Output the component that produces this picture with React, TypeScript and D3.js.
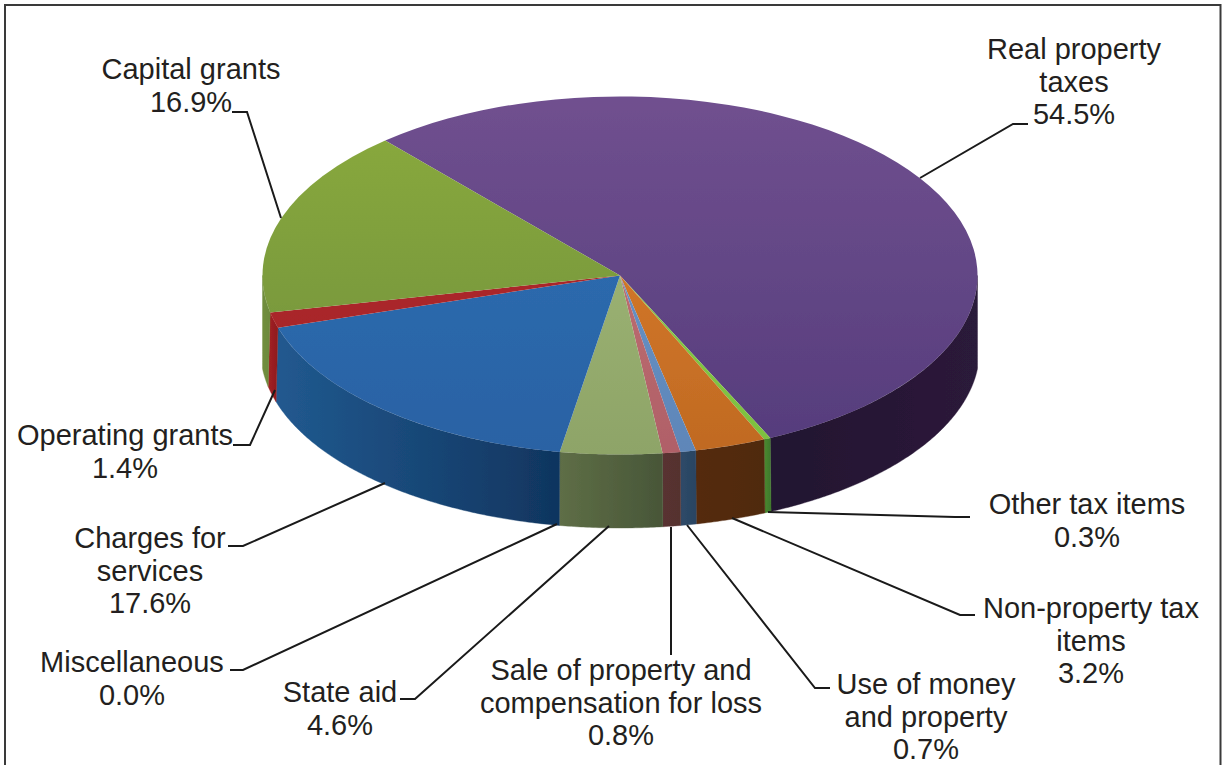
import React from "react";
import * as d3 from "d3";

const categories = [
  "Real property taxes", "Other tax items", "Non-property tax items", "Use of money and property",
  "Sale of property and compensation for loss", "State aid", "Miscellaneous",
  "Charges for services", "Operating grants", "Capital grants",
];
const values = [54.5, 0.3, 3.2, 0.7, 0.8, 4.6, 0.0, 17.6, 1.4, 16.9];
const topColorsA = ["#70508f", "#8fd04a", "#e08030", "#6f9ad0", "#c87878", "#a5bd7a", "#4f81bd", "#2f70b5", "#b02a2c", "#8bab3e"];
const topColorsB = ["#553c7c", "#7cc040", "#c06a22", "#5e86b8", "#b06068", "#8ea468", "#4f81bd", "#2a62a4", "#a52527", "#6f8f3c"];
// wall gradients run left to right on screen
const wallColorsA = ["#221430", "#4a8a30", "#54290c", "#2e4a68", "#5a3030", "#5e6e46", "#1f4f80", "#21598f", "#a02022", "#708e3e"];
const wallColorsB = ["#2c1a3a", "#3f7a2c", "#50290e", "#2a4462", "#54302f", "#485638", "#1f4f80", "#10355f", "#8e1c1e", "#6c8a3c"];

const labelLines = [
  ["Real property", "taxes", "54.5%"], ["Other tax items", "0.3%"], ["Non-property tax", "items", "3.2%"],
  ["Use of money", "and property", "0.7%"], ["Sale of property and", "compensation for loss", "0.8%"],
  ["State aid", "4.6%"], ["Miscellaneous", "0.0%"], ["Charges for", "services", "17.6%"],
  ["Operating grants", "1.4%"], ["Capital grants", "16.9%"],
];
const labelX = [1074, 1087, 1091, 926, 621, 340, 132, 150, 125, 191];
const labelY = [59, 514, 618, 694, 680, 702, 672, 548, 445, 79];
const leaders = [
  [[1028, 124], [1013, 124], [920, 178]],
  [[970, 517], [955, 517], [768, 512]],
  [[975, 615], [960, 615], [732, 518]],
  [[830, 688], [815, 688], [687, 525]],
  [[671, 655], [671, 527]],
  [[400, 699], [415, 699], [609, 526]],
  [[230, 670], [243, 670], [557, 524]],
  [[228, 546], [243, 546], [385, 483]],
  [[233, 445], [250, 445], [275, 390]],
  [[232, 112], [247, 112], [281, 218]],
];

const W = 1222, H = 765;
const cx = 620, cy = 275.5, rx = 357.5, ry = 179;
const botCy = 350, botRx = 359.5, botRy = 178;
const xMin = cx - rx, xMax = cx + rx;
const rad = (d: number) => (d * Math.PI) / 180;
const startDeg = -41.05;

const pie = d3.pie<number>().sort(null).startAngle(rad(startDeg)).endAngle(rad(startDeg + 360));
const arcs = pie(values);
const arcGen = d3.arc<any>().innerRadius(0).outerRadius(rx);

const clampX = d3.scaleLinear().domain([xMin, xMax]).range([xMin, xMax]).clamp(true);
const wallPath = (a0: number, a1: number) => {
  const n = Math.max(2, Math.ceil((a1 - a0) / rad(0.5)));
  const as = d3.range(n + 1).map((i) => a0 + ((a1 - a0) * i) / n);
  const top = as.map((a) => [cx + rx * Math.sin(a), cy - ry * Math.cos(a)] as [number, number]);
  const bot = as.slice().reverse().map((a) => [clampX(cx + botRx * Math.sin(a)), botCy - botRy * Math.cos(a)] as [number, number]);
  return d3.line()([...top, ...bot]) + "Z";
};

export default function App() {
  const walls = arcs
    .map((d, i) => ({ i, a0: Math.max(d.startAngle, rad(90)), a1: Math.min(d.endAngle, rad(270)) }))
    .filter((w) => w.a1 > w.a0);
  const rot = walls.map((w) => {
    const xa = cx + rx * Math.sin(w.a0), xb = cx + rx * Math.sin(w.a1);
    return { i: w.i, x1: Math.min(xa, xb), x2: Math.max(xa, xb) };
  });
  return (
    <svg width={W} height={H} viewBox={`0 0 ${W} ${H}`} style={{ position: "absolute", left: 0, top: 0, display: "block" }}>
      <defs>
        <filter id="soft" x="-2%" y="-2%" width="104%" height="104%">
          <feGaussianBlur stdDeviation="0.6" />
        </filter>
        {values.map((_, i) => (
          <linearGradient key={i} id={`top${i}`} gradientUnits="userSpaceOnUse" x1={0} x2={0} y1={-rx} y2={rx}>
            <stop offset="0" stopColor={topColorsA[i]} />
            <stop offset="1" stopColor={topColorsB[i]} />
          </linearGradient>
        ))}
        {rot.map((r) => (
          <linearGradient key={r.i} id={`wall${r.i}`} gradientUnits="userSpaceOnUse" x1={r.x1} x2={r.x2} y1={0} y2={0}>
            <stop offset="0" stopColor={wallColorsA[r.i]} />
            <stop offset="1" stopColor={wallColorsB[r.i]} />
          </linearGradient>
        ))}
      </defs>
      <rect x={5} y={5} width={1215.5} height={H + 10} fill="#fff" stroke="#3a3a3a" strokeWidth={2} />
      <g filter="url(#soft)">
        {walls.map((w) => (
          <path key={w.i} d={wallPath(w.a0, w.a1)} fill={`url(#wall${w.i})`} stroke={`url(#wall${w.i})`} strokeWidth={0.4} />
        ))}
        <g transform={`translate(${cx},${cy}) scale(1,${ry / rx})`}>
          {arcs.map((d, i) => (
            <path key={i} d={arcGen(d) as string} fill={`url(#top${i})`} aria-label={categories[i]} />
          ))}
        </g>
      </g>
      <g fill="none" stroke="#1a1a1a" strokeWidth={2}>
        {leaders.map((pts, i) => (
          <path key={i} d={d3.line()(pts as [number, number][]) as string} />
        ))}
      </g>
      <g fontFamily="'Liberation Sans', Arial, sans-serif" fontSize={29} fill="#231f20" textAnchor="middle">
        {labelLines.map((lines, i) => (
          <text key={i} x={labelX[i]} y={labelY[i]}>
            {lines.map((t, j) => (
              <tspan key={j} x={labelX[i]} dy={j === 0 ? 0 : 32.5}>{t}</tspan>
            ))}
          </text>
        ))}
      </g>
    </svg>
  );
}
